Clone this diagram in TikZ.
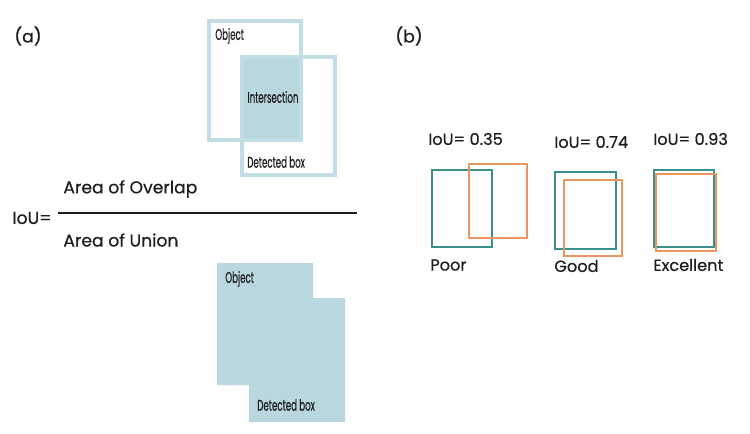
\documentclass[tikz,border=0pt]{standalone}
\usepackage{fontspec}
\usepackage{graphicx}
\setmainfont{Poppins}[FakeBold=0.6]
\usetikzlibrary{positioning}
\definecolor{boxblue}{HTML}{C2DEE4}
\definecolor{fillblue}{HTML}{B9D7DE}
\definecolor{gtteal}{HTML}{3B8F8E}
\definecolor{detorange}{HTML}{E9975E}
\definecolor{inktext}{HTML}{1E1E1E}
\begin{document}
\begin{tikzpicture}[x=0.02cm,y=-0.02cm,
	bluebox/.style={draw=boxblue,line width=2.3pt},
	tealbox/.style={draw=gtteal,line width=1.1pt},
	orangebox/.style={draw=detorange,line width=1.1pt},
	txtleft/.style={anchor=west,inner sep=0pt,text=inktext},
	txtmid/.style={inner sep=0pt,text=inktext}]
			\newcommand{\mybigfont}[1]{
				\fontsize{9.8}{12}\selectfont{#1}
			}\newcommand{\mymidfont}[1]{
				\fontsize{9.2}{12}\selectfont{#1}
			}\newcommand{\mynarrowfont}[1]{
				\scalebox{0.56}[1]{\fontsize{8.8}{10}\selectfont{#1}}
			}%Page frame
			\useasboundingbox (0,0) rectangle (750,433);
			%Panel letters
			\node [txtmid] (pa) at (28,36) {\mybigfont{(a)}};
			\node [txtmid] (pb) at (409,36) {\mybigfont{(b)}};
			%Upper sketch: two boxes and their intersection
			\coordinate (objTL) at (209,21);
			\coordinate (objBR) at (301,140);
			\coordinate (detTL) at (242,57);
			\coordinate (detBR) at (335,175);
			\fill [fillblue] (240,55) rectangle (303,142);
			\draw [bluebox] (objTL) rectangle (objBR);
			\draw [bluebox] (detTL) rectangle (detBR);
			\node [txtleft] (objUp) at (215,36) {\mynarrowfont{Object}};
			\node [txtmid] (interUp) at (273,97) {\mynarrowfont{Intersection}};
			\node [txtleft] (detUp) at (247,162) {\mynarrowfont{Detected box}};
			%The fraction
			\coordinate (barL) at (58,213);
			\coordinate (barR) at (357,213);
			\draw [line width=1.7pt,inktext] (barL) -- (barR);
			\node [txtleft] (iou) at (12,218) {\mybigfont{IoU=}};
			\node [txtleft] (numer) at (63,189) {\mybigfont{Area of Overlap}};
			\node [txtleft] (denom) at (63,240) {\mybigfont{Area of Union}};
			%Lower sketch: the union of both boxes
			\fill [fillblue] (217,263) -- (313,263) -- (313,298) -- (345,298)
				-- (345,422) -- (249,422) -- (249,385) -- (217,385) -- cycle;
			\node [txtleft] (objLow) at (225,279) {\mynarrowfont{Object}};
			\node [txtleft] (detLow) at (257,405) {\mynarrowfont{Detected box}};
			%Poor
			\draw [tealbox] (432,170) rectangle (492,247);
			\draw [orangebox] (469,164) rectangle (527,238);
			\node [txtleft] (iouPoor) at (428,139) {\mymidfont{IoU= 0.35}};
			\node [txtleft] (poor) at (430,265) {\mymidfont{Poor}};
			%Good
			\draw [tealbox] (555,172) rectangle (616,249);
			\draw [orangebox] (564,180) rectangle (622,256);
			\node [txtleft] (iouGood) at (554,142) {\mymidfont{IoU= 0.74}};
			\node [txtleft] (good) at (554,266) {\mymidfont{Good}};
			%Excellent
			\draw [tealbox] (654,170) rectangle (714,247);
			\draw [orangebox] (656,174) rectangle (716,251);
			\node [txtleft] (iouExc) at (653,139) {\mymidfont{IoU= 0.93}};
			\node [txtleft] (exc) at (653,265) {\mymidfont{Excellent}};
\end{tikzpicture}
\end{document}
